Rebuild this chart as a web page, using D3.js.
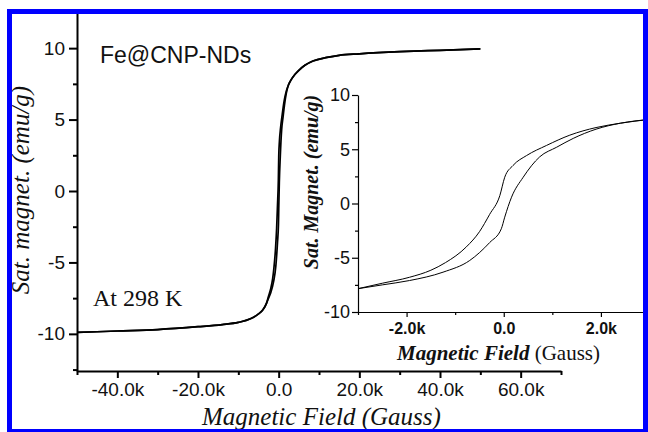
<!DOCTYPE html>
<html>
<head>
<meta charset="utf-8">
<script src="https://cdn.jsdelivr.net/npm/d3@7"></script>
<style>
  html, body { margin: 0; padding: 0; background: #fff; }
  svg { display: block; }
  .sans { font-family: "Liberation Sans", Arial, sans-serif; }
  .serif { font-family: "Liberation Serif", "Times New Roman", serif; }
</style>
</head>
<body>
<svg id="chart" width="648" height="432"></svg>
<script>
// ---- data (field in Gauss, magnetisation in emu/g) ----
var outerNegField = [-50000, -40000, -30000, -20000, -14000, -10000, -7000, -5000, -4000];
var outerNegMag   = [-9.9, -9.8, -9.7, -9.5, -9.35, -9.2, -8.95, -8.6, -8.35];
var outerPosField = [4000, 5000, 6500, 8500, 12000, 15000, 20000, 30000, 40000, 50000];
var outerPosMag   = [8.15, 8.45, 8.8, 9.1, 9.35, 9.5, 9.6, 9.75, 9.85, 9.95];

// descending branch (upper / left curve of the loop)
var downField = [-3000, -2500, -1940, -1500, -1200, -770, -500, -290, -80, 20, 190, 470, 880, 1360, 1900, 2400, 3000];
var downMag   = [-7.85, -7.35, -6.8, -6.15, -5.45, -4.0, -2.6, -1.0, 0.74, 2.42, 3.5, 4.42, 5.35, 6.3, 7.0, 7.4, 7.75];
// ascending branch (lower / right curve of the loop)
var upField = [-3000, -2500, -1940, -1250, -700, -290, -50, 20, 160, 400, 740, 1090, 1430, 1900, 2400, 3000];
var upMag   = [-7.85, -7.5, -7.1, -6.33, -5.25, -3.6, -2.33, -1.26, 0.58, 2.42, 4.3, 5.19, 6.0, 6.85, 7.4, 7.75];

var mainXTicks = [-40000, -20000, 0, 20000, 40000, 60000];
var mainXMinor = [-50000, -30000, -10000, 10000, 30000, 50000, 70000];
var mainYTicks = [-10, -5, 0, 5, 10];
var mainYMinor = [-12.5, -7.5, -2.5, 2.5, 7.5, 12.5];
var insetXTicks = [-2000, 0, 2000];
var insetXMinor = [-3000, -1000, 1000, 3000];
var insetYTicks = [-10, -5, 0, 5, 10];
var insetYMinor = [-7.5, -2.5, 2.5, 7.5];

function zip(a, b) { return a.map(function(v, i) { return [v, b[i]]; }); }
function kfmt(v) { return v === 0 ? "0.0" : (v < 0 ? "-" : "") + (Math.abs(v) / 1000).toFixed(1) + "k"; }
function nfmt(v) { return (v < 0 ? "-" : "") + Math.abs(v); }

var svg = d3.select("#chart");
svg.append("rect").attr("width", 648).attr("height", 432).attr("fill", "#fff");

// ---- main plot ----
var x = d3.scaleLinear().domain([-50000, 70000]).range([77, 561]);
var y = d3.scaleLinear().domain([-12.6, 12.6]).range([371, 11]);

var gx = svg.append("g").attr("transform", "translate(0," + y(-12.6) + ")");
gx.call(d3.axisBottom(x).tickValues(mainXTicks).tickFormat(kfmt).tickSize(7).tickSizeOuter(0).tickPadding(5));
gx.append("g").call(d3.axisBottom(x).tickValues(mainXMinor).tickFormat("").tickSize(4).tickSizeOuter(0))
  .select(".domain").remove();
gx.selectAll("text").attr("class", "sans").style("font-size", "19px").attr("fill", "#111");

var gy = svg.append("g").attr("transform", "translate(" + x(-50000) + ",0)");
gy.call(d3.axisLeft(y).tickValues(mainYTicks).tickFormat(nfmt).tickSize(8).tickSizeOuter(0).tickPadding(4));
gy.append("g").call(d3.axisLeft(y).tickValues(mainYMinor).tickFormat("").tickSize(4).tickSizeOuter(0))
  .select(".domain").remove();
gy.selectAll("text").attr("class", "sans").style("font-size", "19px").attr("fill", "#111");

[gx, gy].forEach(function(g) {
  g.selectAll(".domain, line").attr("stroke", "#000").attr("stroke-width", 2);
});

var mainLine = d3.line().x(function(d) { return x(d[0]); }).y(function(d) { return y(d[1]); })
  .curve(d3.curveMonotoneX);
var negPts = zip(outerNegField, outerNegMag);
var posPts = zip(outerPosField, outerPosMag);
[zip(downField, downMag), zip(upField, upMag)].forEach(function(branch) {
  svg.append("path")
    .attr("d", mainLine(negPts.concat(branch, posPts)))
    .attr("fill", "none").attr("stroke", "#000").attr("stroke-width", 1.7);
});

svg.append("text").attr("class", "sans").attr("x", 100).attr("y", 63)
  .style("font-size", "23px").attr("fill", "#111").text("Fe@CNP-NDs");
svg.append("text").attr("class", "serif").attr("x", 93).attr("y", 306)
  .style("font-size", "24px").attr("fill", "#111").text("At 298 K");

svg.append("text").attr("class", "serif").attr("x", 202).attr("y", 425)
  .style("font-size", "25px").style("font-style", "italic").attr("fill", "#111")
  .text("Magnetic Field (Gauss)");
svg.append("text").attr("class", "serif")
  .attr("transform", "translate(29,190) rotate(-90)").attr("text-anchor", "middle")
  .style("font-size", "25px").style("font-style", "italic").attr("fill", "#111")
  .text("Sat. magnet. (emu/g)");

// ---- inset ----
var ix = d3.scaleLinear().domain([-3000, 3000]).range([358, 649.5]);
var iy = d3.scaleLinear().domain([-10, 10]).range([312, 95]);

var igx = svg.append("g").attr("transform", "translate(0," + iy(-10) + ")");
igx.call(d3.axisBottom(ix).tickValues(insetXTicks).tickFormat(kfmt).tickSize(5).tickSizeOuter(0).tickPadding(6));
igx.append("g").call(d3.axisBottom(ix).tickValues(insetXMinor).tickFormat("").tickSize(3).tickSizeOuter(0))
  .select(".domain").remove();
igx.selectAll("text").attr("class", "sans").style("font-size", "16px").style("font-weight", "bold").attr("fill", "#111");

var igy = svg.append("g").attr("transform", "translate(" + ix(-3000) + ",0)");
igy.call(d3.axisLeft(iy).tickValues(insetYTicks).tickFormat(nfmt).tickSize(6).tickSizeOuter(0).tickPadding(2));
igy.append("g").call(d3.axisLeft(iy).tickValues(insetYMinor).tickFormat("").tickSize(3).tickSizeOuter(0))
  .select(".domain").remove();
igy.selectAll("text").attr("class", "sans").style("font-size", "18px").attr("fill", "#111");

[igx, igy].forEach(function(g) {
  g.selectAll(".domain, line").attr("stroke", "#000").attr("stroke-width", 1.2);
});

var insetLine = d3.line().x(function(d) { return ix(d[0]); }).y(function(d) { return iy(d[1]); })
  .curve(d3.curveMonotoneX);
[zip(downField, downMag), zip(upField, upMag)].forEach(function(branch) {
  svg.append("path").attr("d", insetLine(branch))
    .attr("fill", "none").attr("stroke", "#000").attr("stroke-width", 1);
});

var it = svg.append("text").attr("class", "serif").attr("x", 397).attr("y", 360)
  .style("font-size", "21px").attr("fill", "#111");
it.append("tspan").style("font-weight", "bold").style("font-style", "italic").text("Magnetic Field");
it.append("tspan").text(" (Gauss)");

svg.append("text").attr("class", "serif")
  .attr("transform", "translate(318,182) rotate(-90)").attr("text-anchor", "middle")
  .style("font-size", "20px").style("font-weight", "bold").style("font-style", "italic").attr("fill", "#111")
  .text("Sat. Magnet. (emu/g)");

// ---- blue frame ----
svg.append("rect").attr("x", 9.5).attr("y", 11.5).attr("width", 636).attr("height", 420)
  .attr("fill", "none").attr("stroke", "#0000ff").attr("stroke-width", 5);
</script>
</body>
</html>
